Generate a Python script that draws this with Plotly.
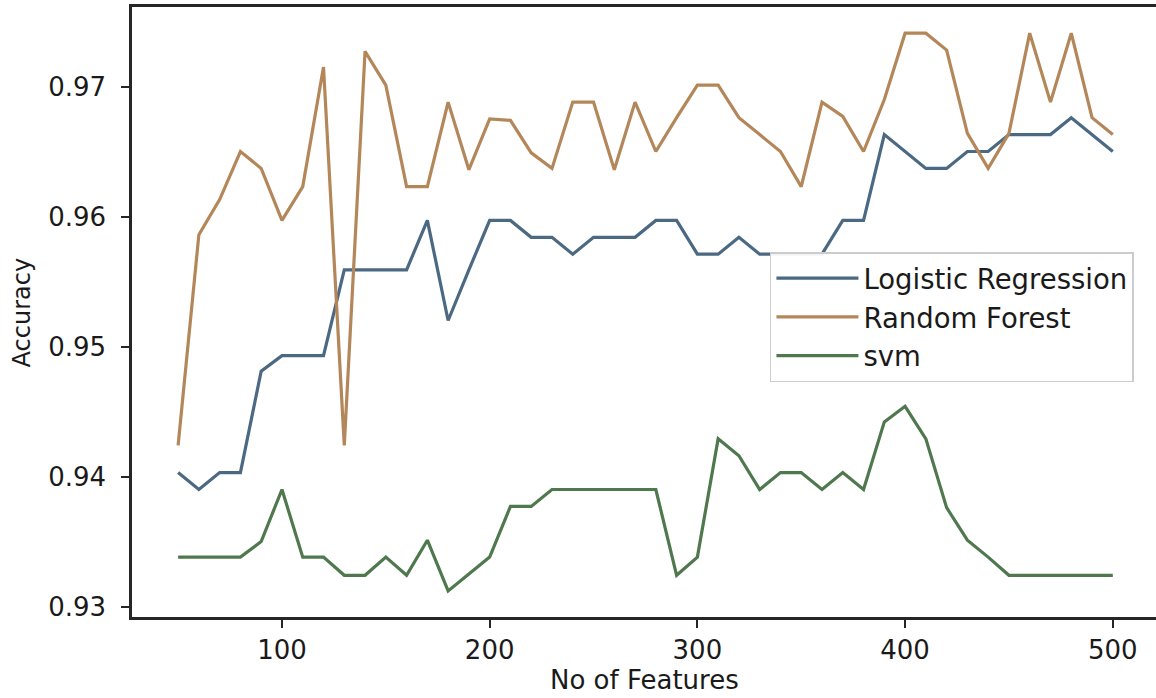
import plotly.graph_objects as go

features = [50, 60, 70, 80, 90, 100, 110, 120, 130, 140, 150, 160, 170, 180, 190,
            200, 210, 220, 230, 240, 250, 260, 270, 280, 290, 300, 310, 320, 330, 340,
            350, 360, 370, 380, 390, 400, 410, 420, 430, 440, 450, 460, 470, 480, 490, 500]

logistic_regression = [0.9403, 0.9390, 0.9403, 0.9403, 0.9481, 0.9493, 0.9493, 0.9493, 0.9559, 0.9559,
                       0.9559, 0.9559, 0.9597, 0.9520, 0.9559, 0.9597, 0.9597, 0.9584, 0.9584, 0.9571,
                       0.9584, 0.9584, 0.9584, 0.9597, 0.9597, 0.9571, 0.9571, 0.9584, 0.9571, 0.9571,
                       0.9571, 0.9571, 0.9597, 0.9597, 0.9663, 0.9650, 0.9637, 0.9637, 0.9650, 0.9650,
                       0.9663, 0.9663, 0.9663, 0.9676, 0.9663, 0.9650]

random_forest = [0.9424, 0.9586, 0.9613, 0.9650, 0.9637, 0.9597, 0.9623, 0.9715, 0.9424, 0.9727,
                 0.9701, 0.9623, 0.9623, 0.9688, 0.9636, 0.9675, 0.9674, 0.9649, 0.9637, 0.9688,
                 0.9688, 0.9636, 0.9688, 0.9650, 0.9676, 0.9701, 0.9701, 0.9676, 0.9663, 0.9650,
                 0.9623, 0.9688, 0.9677, 0.9650, 0.9690, 0.9741, 0.9741, 0.9728, 0.9664, 0.9637,
                 0.9664, 0.9741, 0.9688, 0.9741, 0.9676, 0.9663]

svm = [0.9338, 0.9338, 0.9338, 0.9338, 0.9350, 0.9390, 0.9338, 0.9338, 0.9324, 0.9324,
       0.9338, 0.9324, 0.9351, 0.9312, 0.9325, 0.9338, 0.9377, 0.9377, 0.9390, 0.9390,
       0.9390, 0.9390, 0.9390, 0.9390, 0.9324, 0.9338, 0.9429, 0.9416, 0.9390, 0.9403,
       0.9403, 0.9390, 0.9403, 0.9390, 0.9442, 0.9454, 0.9429, 0.9376, 0.9351, 0.9338,
       0.9324, 0.9324, 0.9324, 0.9324, 0.9324, 0.9324]

x_ticks = [100, 200, 300, 400, 500]
y_ticks = [0.93, 0.94, 0.95, 0.96, 0.97]

series = [
    ("Logistic Regression", logistic_regression, "#4b6982"),
    ("Random Forest", random_forest, "#b4875a"),
    ("svm", svm, "#4f784f"),
]

FONT = "DejaVu Sans"
TXT = "#1a1a1a"

fig = go.Figure()
for name, vals, col in series:
    fig.add_trace(go.Scatter(x=features, y=vals, mode="lines", name=name,
                             line=dict(color=col, width=3.2)))

fig.update_layout(
    width=1156, height=698,
    margin=dict(l=132, r=0, t=7, b=81),
    paper_bgcolor="white", plot_bgcolor="white",
    font=dict(family=FONT, size=26, color=TXT),
    showlegend=True,
    legend=dict(
        x=0.623, y=0.598, xanchor="left", yanchor="top",
        bgcolor="rgba(255,255,255,0.92)", bordercolor="#cccccc", borderwidth=1.5,
        font=dict(family=FONT, size=27.5, color=TXT),
        itemwidth=82, tracegroupgap=0,
    ),
    annotations=[
        dict(text="Accuracy", xref="paper", yref="paper", x=-0.107, y=0.5,
             xanchor="center", yanchor="middle", textangle=-90, showarrow=False,
             font=dict(family=FONT, size=24, color=TXT)),
        dict(text="No of Features", xref="paper", yref="paper", x=0.5, y=-0.104,
             xanchor="center", yanchor="middle", showarrow=False,
             font=dict(family=FONT, size=26, color=TXT)),
    ],
)

fig.update_xaxes(
    range=[27.8, 520.8], tickvals=x_ticks, ticktext=[str(v) for v in x_ticks],
    showgrid=False, zeroline=False,
    showline=True, linecolor="#262626", linewidth=2.5, mirror=True,
    ticks="outside", ticklen=8, tickwidth=2, tickcolor="#262626",
    ticklabelstandoff=0,
    tickfont=dict(family=FONT, size=26, color=TXT),
)
fig.update_yaxes(
    range=[0.929192, 0.976115], tickvals=y_ticks, ticktext=[f"{v:.2f}" for v in y_ticks],
    showgrid=False, zeroline=False,
    showline=True, linecolor="#262626", linewidth=2.5, mirror=False,
    ticks="outside", ticklen=8, tickwidth=2, tickcolor="#262626",
    ticklabelstandoff=10,
    tickfont=dict(family=FONT, size=26, color=TXT),
)

fig.write_html("out.html")
